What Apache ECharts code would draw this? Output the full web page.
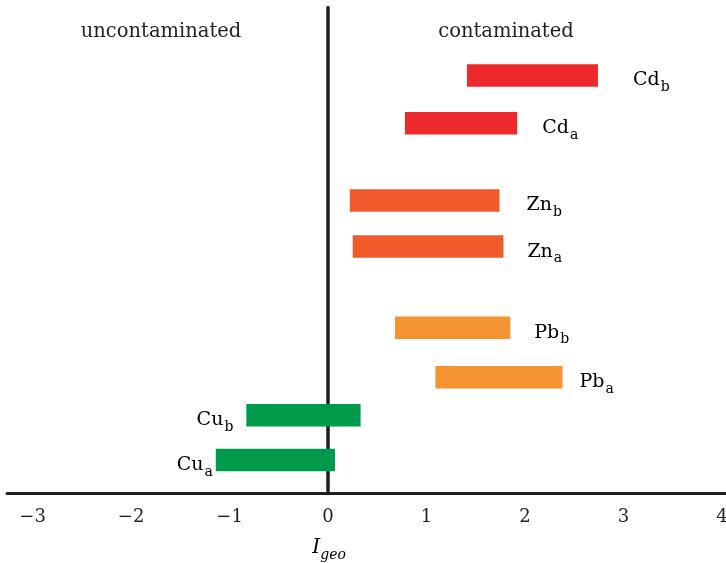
<!DOCTYPE html>
<html>
<head>
<meta charset="utf-8">
<script src="https://cdn.jsdelivr.net/npm/echarts@6/dist/echarts.min.js"></script>
<style>
html,body{margin:0;padding:0;background:#fff;}
#chart{width:726px;height:563px;}
</style>
</head>
<body>
<div id="chart"></div>
<script>
// ---- data ----
const elements   = ['Cd', 'Cd', 'Zn', 'Zn', 'Pb', 'Pb', 'Cu', 'Cu'];
const subscripts = ['b', 'a', 'b', 'a', 'b', 'a', 'b', 'a'];
const lowValues  = [1.41, 0.78, 0.22, 0.25, 0.68, 1.09, -0.83, -1.14];
const highValues = [2.74, 1.92, 1.74, 1.78, 1.85, 2.38, 0.33, 0.07];
const rowPositions = [14.0, 23.8, 39.7, 49.2, 65.9, 76.1, 83.9, 93.1];
const tickValues = [-3, -2, -1, 0, 1, 2, 3, 4];
const regionLabels = ['uncontaminated', 'contaminated'];

// ---- styles ----
const elementColors = { Cd: '#ED2A2B', Zn: '#F15A2A', Pb: '#F4932F', Cu: '#009A4C' };
const labelSide = ['right', 'right', 'right', 'right', 'right', 'right', 'left', 'left'];
const labelGap  = [35, 25, 27, 24, 24, 17, 13, 3];
const ink = '#231F20';
const FONT = 'DejaVu Serif';

const chart = echarts.init(document.getElementById('chart'), null, { renderer: 'canvas' });

const seriesData = elements.map((e, i) => [lowValues[i], highValues[i], rowPositions[i]]);

function renderItem(params, api) {
  const i = params.dataIndex;
  const p0 = api.coord([api.value(0), api.value(2)]);
  const p1 = api.coord([api.value(1), api.value(2)]);
  const h = 22.5;
  const right = labelSide[i] === 'right';
  return {
    type: 'group',
    children: [
      {
        type: 'rect',
        shape: { x: p0[0], y: p0[1] - h / 2, width: p1[0] - p0[0], height: h },
        style: { fill: elementColors[elements[i]] }
      },
      {
        type: 'text',
        x: right ? p1[0] + labelGap[i] : p0[0] - labelGap[i],
        y: p0[1] + 5,
        style: {
          text: '{m|' + elements[i] + '}{s|' + subscripts[i] + '}',
          align: right ? 'left' : 'right',
          verticalAlign: 'middle',
          rich: {
            m: { fontFamily: FONT, fontSize: 19, color: ink, lineHeight: 22 },
            s: { fontFamily: FONT, fontSize: 14, color: ink, padding: [14, 0, 0, 1] }
          }
        }
      }
    ]
  };
}

chart.setOption({
  animation: false,
  backgroundColor: '#fff',
  grid: { left: 7, right: 0, top: 7.5, bottom: 69.5, containLabel: false, outerBoundsMode: 'none' },
  xAxis: {
    type: 'value',
    min: -3.26,
    max: 4.04,
    axisLine: { show: true, onZero: false, lineStyle: { color: ink, width: 3 } },
    axisTick: { show: false },
    splitLine: { show: false },
    axisLabel: {
      customValues: tickValues,
      margin: 15,
      fontFamily: FONT,
      fontSize: 18,
      color: ink,
      hideOverlap: false,
      formatter: v => String(v).replace('-', '\u2212')
    }
  },
  yAxis: {
    type: 'value',
    inverse: true,
    min: 0,
    max: 100,
    axisLine: { show: true, onZero: true, lineStyle: { color: ink, width: 3.5 } },
    axisTick: { show: false },
    axisLabel: { show: false },
    splitLine: { show: false }
  },
  series: [{
    type: 'custom',
    renderItem: renderItem,
    data: seriesData,
    encode: { x: [0, 1], y: 2 },
    clip: false
  }]
});

const zeroX = chart.convertToPixel({ xAxisIndex: 0 }, 0);
chart.setOption({
  graphic: [
    {
      type: 'text', x: 161, y: 32,
      style: { text: regionLabels[0], fontFamily: FONT, fontSize: 19.5, fill: ink, align: 'center', verticalAlign: 'middle' }
    },
    {
      type: 'text', x: 506, y: 32,
      style: { text: regionLabels[1], fontFamily: FONT, fontSize: 19.5, fill: ink, align: 'center', verticalAlign: 'middle' }
    },
    {
      type: 'text', x: zeroX + 1, y: 548,
      style: {
        text: '{i|I}{g|geo}',
        align: 'center',
        verticalAlign: 'middle',
        rich: {
          i: { fontFamily: FONT, fontStyle: 'italic', fontSize: 20, color: ink, lineHeight: 22 },
          g: { fontFamily: FONT, fontStyle: 'italic', fontSize: 14, color: ink, padding: [14, 0, 0, 0] }
        }
      }
    }
  ]
});
</script>
</body>
</html>
